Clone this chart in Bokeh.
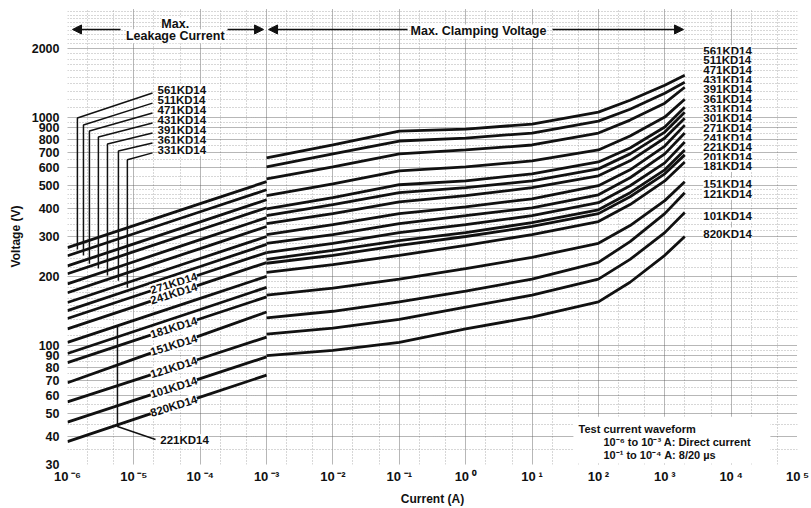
import numpy as np
from bokeh.plotting import figure
from bokeh.models import FixedTicker, NumeralTickFormatter, Label, Arrow, NormalHead, BoxAnnotation
from bokeh.embed import file_html
from bokeh.resources import INLINE

# ---------------- data ----------------
LEAK_CURRENT = [1e-6, 1e-5, 1e-4, 1e-3]                               # A, DC leakage
CLAMP_CURRENT = [1e-3, 1e-2, 1e-1, 1, 10, 100, 300, 1000, 2000]       # A, clamping

leak_820 = [37.8, 47.3, 59.2, 74]
leak_101 = [46, 57.3, 71.4, 89]
leak_121 = [56.5, 70.2, 87.3, 108.6]
leak_151 = [68.5, 86.9, 110.3, 140]
leak_181 = [84, 104.8, 130.7, 163]
leak_201 = [92, 114.9, 143.5, 179.5]
leak_221 = [103, 128.6, 160.6, 200.6]
leak_241 = [118, 147.5, 184.4, 230.6]
leak_271 = [131, 163.6, 204.3, 255]
leak_301 = [142, 177.4, 221.5, 277]
leak_331 = [154, 192.3, 240.2, 300]
leak_361 = [170, 212.5, 265.6, 332]
leak_391 = [186, 232.5, 290.6, 363]
leak_431 = [206, 257.3, 321.3, 401]
leak_471 = [223, 278.5, 347.9, 435]
leak_511 = [247, 308.5, 385.3, 481]
leak_561 = [268, 334.7, 418, 522]

clamp_820 = [90, 95, 103, 118, 133, 155, 189, 248, 300]
clamp_101 = [112, 119, 130, 147, 166, 195, 238, 312, 382]
clamp_121 = [132, 141, 155, 173, 195, 231, 285, 378, 467]
clamp_151 = [166, 178, 195, 217, 243, 280, 335, 431, 521]
clamp_181 = [209, 226, 248, 274, 306, 349, 414, 526, 637]
clamp_201 = [229, 248, 274, 300, 332, 378, 448, 565, 684]
clamp_221 = [238, 261, 288, 312, 345, 393, 467, 588, 719]
clamp_241 = [255, 280, 312, 338, 370, 422, 501, 631, 779]
clamp_271 = [280, 306, 342, 370, 401, 457, 543, 691, 853]
clamp_301 = [306, 338, 378, 405, 439, 501, 588, 748, 924]
clamp_331 = [342, 378, 426, 453, 491, 554, 644, 811, 991]
clamp_361 = [370, 414, 467, 491, 526, 594, 691, 861, 1053]
clamp_391 = [397, 444, 506, 526, 565, 637, 733, 906, 1107]
clamp_431 = [453, 511, 582, 606, 644, 719, 827, 1002, 1200]
clamp_471 = [537, 606, 691, 719, 756, 853, 972, 1153, 1354]
clamp_511 = [606, 691, 787, 811, 853, 962, 1085, 1275, 1423]
clamp_561 = [663, 756, 870, 888, 933, 1053, 1188, 1381, 1527]

SERIES = [
    ("820KD14", leak_820, clamp_820), ("101KD14", leak_101, clamp_101),
    ("121KD14", leak_121, clamp_121), ("151KD14", leak_151, clamp_151),
    ("181KD14", leak_181, clamp_181), ("201KD14", leak_201, clamp_201),
    ("221KD14", leak_221, clamp_221), ("241KD14", leak_241, clamp_241),
    ("271KD14", leak_271, clamp_271), ("301KD14", leak_301, clamp_301),
    ("331KD14", leak_331, clamp_331), ("361KD14", leak_361, clamp_361),
    ("391KD14", leak_391, clamp_391), ("431KD14", leak_431, clamp_431),
    ("471KD14", leak_471, clamp_471), ("511KD14", leak_511, clamp_511),
    ("561KD14", leak_561, clamp_561),
]

X_EXPONENTS = list(range(-6, 6))
Y_TICKS = [30, 40, 50, 60, 70, 80, 90, 100, 200, 300, 400, 500, 600, 700, 800, 900, 1000, 2000]

# labels at the right end (label order top -> bottom, with their heights in V)
RIGHT_LABELS = ["561KD14", "511KD14", "471KD14", "431KD14", "391KD14", "361KD14", "331KD14",
                "301KD14", "271KD14", "241KD14", "221KD14", "201KD14", "181KD14",
                "151KD14", "121KD14", "101KD14", "820KD14"]
RIGHT_LABEL_V = [1947, 1779, 1608, 1454, 1329, 1201, 1087, 993, 897, 812, 742, 670, 612,
                 511, 462, 370, 309]
RIGHT_LABEL_I = 3800

# labels written along the leakage lines
ONLINE_LABELS = ["271KD14", "241KD14", "181KD14", "151KD14", "121KD14", "101KD14", "820KD14"]
ONLINE_I = 4e-5

# call-outs in the upper left
CALLOUT_MODELS = ["561KD14", "511KD14", "471KD14", "431KD14", "391KD14", "361KD14", "331KD14"]
CALLOUT_I = [1.41e-6, 1.74e-6, 2.14e-6, 2.92e-6, 4.0e-6, 5.85e-6, 7.98e-6]
CALLOUT_KNEE_V = [993, 925, 871, 820, 764, 712, 651]
CALLOUT_TIP_V = [1277, 1154, 1044, 944, 854, 772, 698]
CALLOUT_TEXT_V = [1315, 1190, 1076, 973, 880, 796, 720]
CALLOUT_TIP_I = 1.91e-5
CALLOUT_TEXT_I = 2.27e-5

FONT = "Liberation Sans"
INK = "#111111"


def loglerp(xs, ys, x):
    return 10 ** np.interp(np.log10(x), np.log10(xs), np.log10(ys))


leak_of = {name: lk for name, lk, _ in SERIES}

p = figure(width=811, height=508, x_axis_type="log", y_axis_type="log",
           x_range=(1e-6, 1e5), y_range=(30, 3000),
           output_backend="svg", toolbar_location=None,
           min_border_left=67, min_border_right=14, min_border_top=8, min_border_bottom=42,
           x_axis_label="Current (A)", y_axis_label="Voltage (V)")
p.outline_line_color = None
p.background_fill_color = "white"
p.border_fill_color = "white"

decades = [10.0 ** k for k in X_EXPONENTS]
sup = str.maketrans("-0123456789", "⁻⁰¹²³⁴⁵⁶⁷⁸⁹")
p.xaxis.ticker = FixedTicker(ticks=decades)
p.xaxis.major_label_overrides = {d: "10\u2009" + str(k).translate(sup)
                                 for k, d in zip(X_EXPONENTS, decades)}
p.yaxis.ticker = FixedTicker(ticks=Y_TICKS)
p.yaxis.formatter = NumeralTickFormatter(format="0")

for ax in (p.xaxis, p.yaxis):
    ax.axis_line_color = None
    ax.major_tick_line_color = None
    ax.minor_tick_line_color = None
    ax.major_tick_out = 0
    ax.major_label_text_font = FONT
    ax.major_label_text_font_style = "bold"
    ax.major_label_text_font_size = "12.5px"
    ax.major_label_text_color = INK
    ax.axis_label_text_font = FONT
    ax.axis_label_text_font_style = "bold"
    ax.axis_label_text_font_size = "12px"
    ax.axis_label_text_color = INK
p.xaxis.major_label_text_font_size = "13px"
p.xaxis.major_label_standoff = 4
p.xaxis.axis_label_standoff = 5
p.yaxis.major_label_standoff = 8
p.yaxis.axis_label_standoff = 6

# graph-paper grid
x_minor = [5 * 10.0 ** k for k in range(-6, 5)] + [2 * 10.0 ** k for k in range(-6, 5)]
y_minor = ([v for v in range(35, 100, 5) if v not in Y_TICKS]
           + [v for v in range(110, 200, 10)]
           + [v for v in range(220, 500, 20) if v not in Y_TICKS]
           + [v for v in range(550, 1000, 50) if v not in Y_TICKS]
           + [v for v in range(1100, 3000, 100) if v != 2000])
p.xgrid.ticker = FixedTicker(ticks=decades, minor_ticks=x_minor)
p.ygrid.ticker = FixedTicker(ticks=Y_TICKS + [3000], minor_ticks=y_minor)
for g in (p.xgrid, p.ygrid):
    g.grid_line_color = "#5e5e5e"
    g.grid_line_dash = "1 1"
    g.grid_line_width = 0.9
    g.minor_grid_line_color = "#9a9a9a"
    g.minor_grid_line_dash = "1 2"
    g.minor_grid_line_width = 0.8

# curves
for name, lk, cl in SERIES:
    p.line(LEAK_CURRENT, lk, line_width=2.8, color=INK)
    p.line(CLAMP_CURRENT, cl, line_width=2.8, color=INK)

# upper-left call-out leaders
xs, ys = [], []
for name, ci, kv, tv in zip(CALLOUT_MODELS, CALLOUT_I, CALLOUT_KNEE_V, CALLOUT_TIP_V):
    bottom = loglerp(LEAK_CURRENT, leak_of[name], ci) * 0.95
    xs.append([CALLOUT_TIP_I, ci, ci])
    ys.append([tv, kv, bottom])
# 221KD14 call-out
ci221 = 5.66e-6
top221 = loglerp(LEAK_CURRENT, leak_221, ci221)
xs.append([ci221, ci221, 2.12e-5])
ys.append([top221, 44, 38.6])
p.multi_line(xs, ys, line_width=1.5, color=INK)


def lab(x, y, text, size="11.5px", align="left", baseline="middle", angle=0.0, bg="white", style="bold"):
    p.add_layout(Label(x=x, y=y, text=text, text_font=FONT, text_font_style=style,
                       text_font_size=size, text_align=align, text_baseline=baseline,
                       angle=angle, text_color=INK, background_fill_color=bg))


for name, v in zip(CALLOUT_MODELS, CALLOUT_TEXT_V):
    lab(CALLOUT_TEXT_I, v, name)
lab(2.5e-5, 38.3, "221KD14")

for name in ONLINE_LABELS:
    v = loglerp(LEAK_CURRENT, leak_of[name], ONLINE_I)
    lab(ONLINE_I, v, name, align="center", angle=0.30)

for name, v in zip(RIGHT_LABELS, RIGHT_LABEL_V):
    lab(RIGHT_LABEL_I, v, name)

# header arrows
head = dict(size=9, fill_color=INK, line_color=INK)
for x0, x1 in [(6.3e-6, 1.19e-6), (2.58e-4, 9.0e-4), (0.133, 1.07e-3), (20.4, 1918)]:
    p.add_layout(Arrow(end=NormalHead(**head), x_start=x0, y_start=2428, x_end=x1, y_end=2428,
                       line_width=1.6, line_color=INK))
lab(4.2e-5, 2553, "Max.", size="12.5px", align="center")
lab(4.2e-5, 2264, "Leakage Current", size="12.5px", align="center")
lab(1.56, 2380, "Max. Clamping Voltage", size="12.5px", align="center")

# test-waveform note
p.add_layout(BoxAnnotation(left=42, right=39000, bottom=30.3, top=48.6,
                           fill_color="white", fill_alpha=1.0, line_color=None))
lab(50.2, 43.1, "Test current waveform", size="11px", bg=None)
lab(119, 37.8, "10⁻⁶  to  10⁻³  A:  Direct current", size="11px", bg=None)
lab(119, 32.9, "10⁻¹  to  10⁻⁴  A:  8/20 µs", size="11px", bg=None)

open("out.html", "w").write(file_html(p, INLINE))
